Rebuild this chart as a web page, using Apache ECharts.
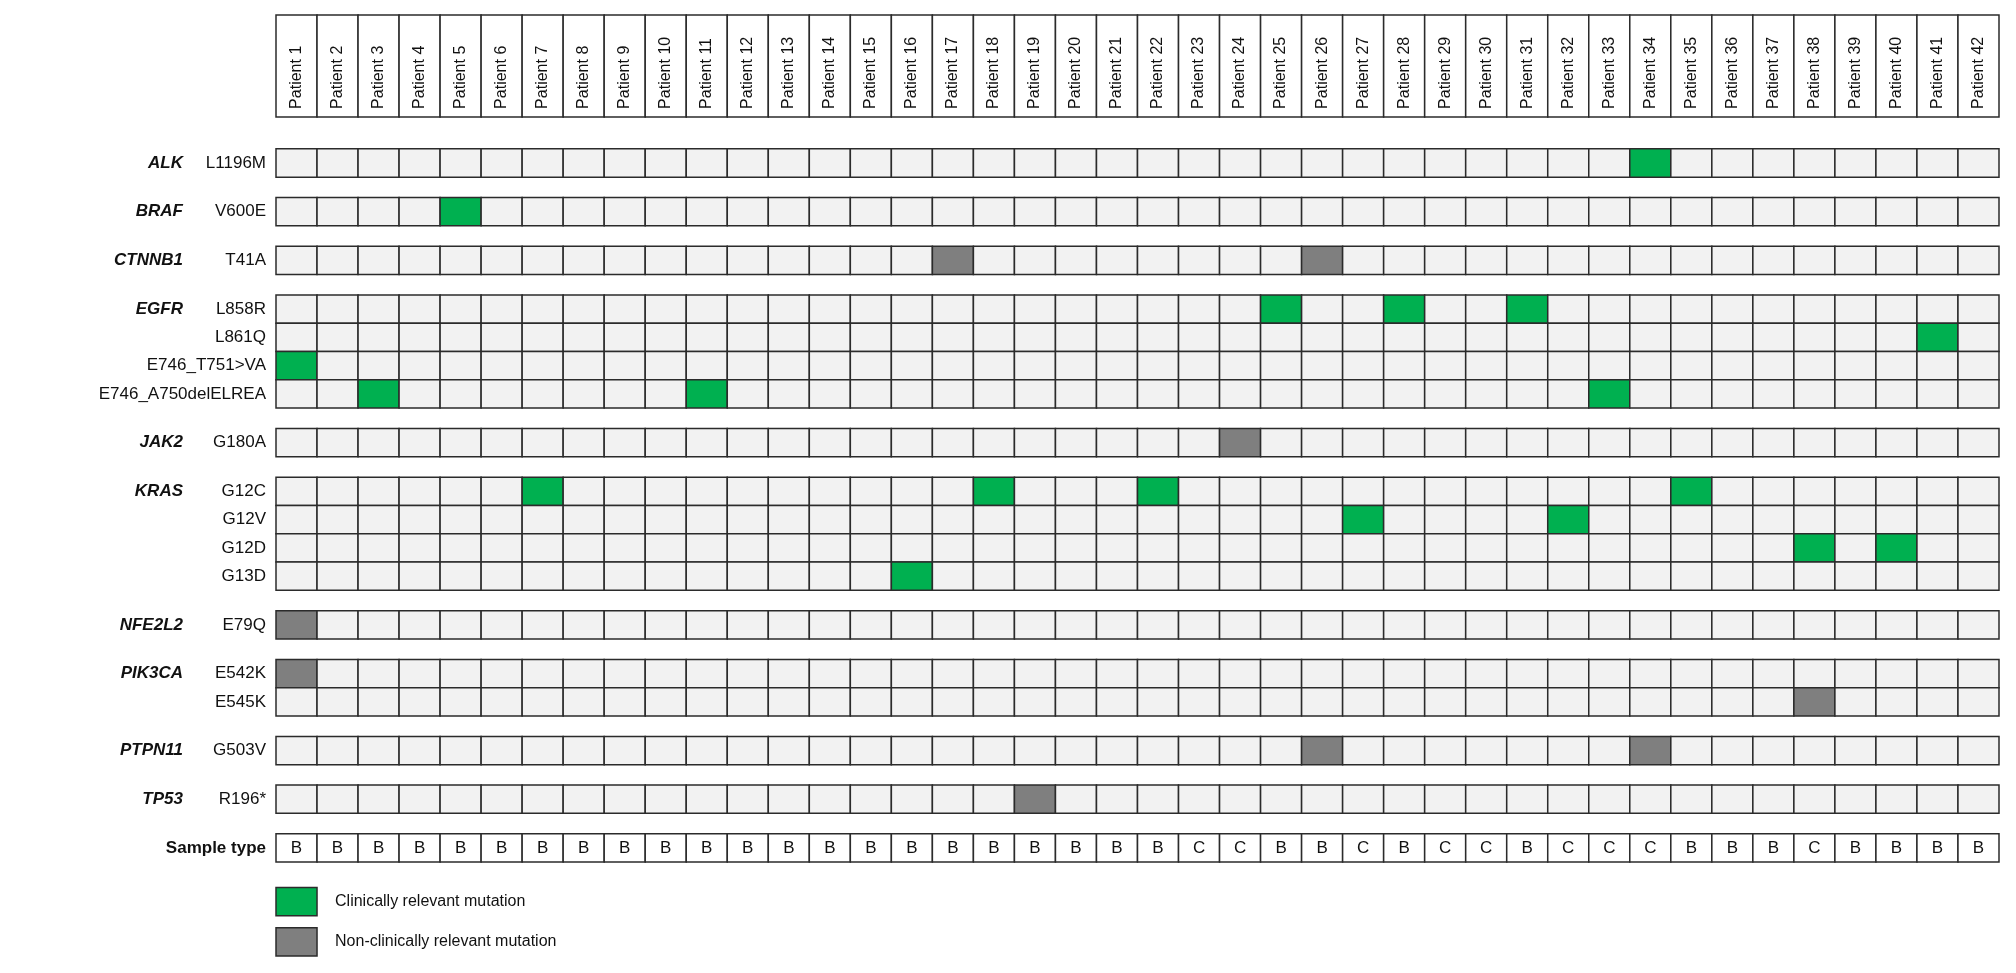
<!DOCTYPE html>
<html><head><meta charset="utf-8">
<script src="https://cdn.jsdelivr.net/npm/echarts@6/dist/echarts.min.js"></script>
<style>html,body{margin:0;padding:0;background:#fff}#c{width:2016px;height:973px}</style>
</head><body><div id="c"></div>
<script>
const patients = Array.from({length:42},(_,i)=>'Patient '+(i+1));
const genes = ['ALK','BRAF','CTNNB1','EGFR','JAK2','KRAS','NFE2L2','PIK3CA','PTPN11','TP53'];
const variants = [['L1196M'],['V600E'],['T41A'],['L858R','L861Q','E746_T751>VA','E746_A750delELREA'],['G180A'],['G12C','G12V','G12D','G13D'],['E79Q'],['E542K','E545K'],['G503V'],['R196*']];
// mutated patients per variant: green = clinically relevant, gray = non-clinically relevant
const clinical = [[[34]],[[5]],[[]],[[25,28,31],[41],[1],[3,11,33]],[[]],[[7,18,22,35],[27,32],[38,40],[16]],[[]],[[],[]],[[]],[[]]];
const nonClinical = [[[]],[[]],[[17,26]],[[],[],[],[]],[[24]],[[],[],[],[]],[[1]],[[1],[38]],[[26,34]],[[19]]];
const sampleType = 'BBBBBBBBBBBBBBBBBBBBBBCCBBCBCCBCCCBBBCBBBB'.split('');
const legendLabels = ['Clinically relevant mutation','Non-clinically relevant mutation'];

const C_GREEN='#00b050', C_GRAY='#7f7f7f', C_EMPTY='#f2f2f2', C_LINE='#2b2b2b';
const HEADER_H=3.6, HEADER_GAP=1.13, GROUP_GAP=0.72, LEG_GAP1=0.9, LEG_GAP2=0.42;

// layout rows
let y = HEADER_H + HEADER_GAP;
const rows = []; // {y, gene, variant, gi, vi}
genes.forEach((g,gi)=>{
  variants[gi].forEach((v,vi)=>{ rows.push({y, gene: vi===0?g:'', variant:v, gi, vi}); y+=1; });
  y += GROUP_GAP;
});
const sampleY = y; y += 1 + LEG_GAP1;
const legY = [y, y+1+LEG_GAP2];
const yMax = legY[1]+1;

const cellData=[];
rows.forEach((r,ri)=>{
  for(let p=1;p<=42;p++){
    let t=0;
    if(clinical[r.gi][r.vi].includes(p)) t=1;
    else if(nonClinical[r.gi][r.vi].includes(p)) t=2;
    cellData.push([p-1, r.y, t]);
  }
});
const headerData = patients.map((p,i)=>[i,0,p]);
const sampleData = sampleType.map((s,i)=>[i,sampleY,s]);
const labelData = rows.map(r=>[0,r.y,r.gene,r.variant]).concat([[0,sampleY,'','Sample type']]);
const legendData = legendLabels.map((l,i)=>[0,legY[i],i+1,l]);
const fill = t => t===1?C_GREEN:(t===2?C_GRAY:C_EMPTY);

function cellRect(api,x,y0,h){
  const a=api.coord([x,y0]), b=api.coord([x+1,y0+h]);
  return {x:a[0],y:a[1],width:b[0]-a[0],height:b[1]-a[1]};
}
const chart = echarts.init(document.getElementById('c'));
chart.setOption({
  animation:false,
  grid:{left:276,right:17,top:15,bottom:17},
  xAxis:{type:'value',min:0,max:42,show:false},
  yAxis:{type:'value',min:0,max:yMax,inverse:true,show:false},
  series:[
    {type:'custom',data:cellData,renderItem:(p,api)=>({type:'rect',shape:cellRect(api,api.value(0),api.value(1),1),
      style:{fill:fill(api.value(2)),stroke:C_LINE,lineWidth:1.5}})},
    {type:'custom',data:headerData,renderItem:(p,api)=>{
      const s=cellRect(api,api.value(0),api.value(1),HEADER_H);
      return {type:'group',children:[
        {type:'rect',shape:s,style:{fill:'#fff',stroke:C_LINE,lineWidth:1.5}},
        {type:'text',x:s.x+s.width/2,y:s.y+s.height-8,rotation:Math.PI/2,
          style:{text:api.value(2),fill:'#111',font:'16px "Liberation Sans", Arial, sans-serif',align:'left',verticalAlign:'middle'}}]};
    }},
    {type:'custom',data:sampleData,renderItem:(p,api)=>{
      const s=cellRect(api,api.value(0),api.value(1),1);
      return {type:'group',children:[
        {type:'rect',shape:s,style:{fill:'#fff',stroke:C_LINE,lineWidth:1.5}},
        {type:'text',x:s.x+s.width/2,y:s.y+s.height/2,
          style:{text:api.value(2),fill:'#111',font:'17px "Liberation Sans", Arial, sans-serif',align:'center',verticalAlign:'middle'}}]};
    }},
    {type:'custom',data:labelData,renderItem:(p,api)=>{
      const a=api.coord([0,api.value(1)+0.5]);
      const isSample = api.value(3)==='Sample type';
      return {type:'group',children:[
        {type:'text',x:a[0]-93,y:a[1],style:{text:api.value(2),fill:'#111',font:'italic bold 17px "Liberation Sans", Arial, sans-serif',align:'right',verticalAlign:'middle'}},
        {type:'text',x:a[0]-10,y:a[1],style:{text:api.value(3),fill:'#111',font:(isSample?'bold ':'')+'17px "Liberation Sans", Arial, sans-serif',align:'right',verticalAlign:'middle'}}]};
    }},
    {type:'custom',data:legendData,renderItem:(p,api)=>{
      const s=cellRect(api,0,api.value(1),1);
      return {type:'group',children:[
        {type:'rect',shape:s,style:{fill:fill(api.value(2)),stroke:C_LINE,lineWidth:1.5}},
        {type:'text',x:s.x+s.width+18,y:s.y+s.height/2,style:{text:api.value(3),fill:'#111',font:'16px "Liberation Sans", Arial, sans-serif',align:'left',verticalAlign:'middle'}}]};
    }}
  ]
});
</script></body></html>
